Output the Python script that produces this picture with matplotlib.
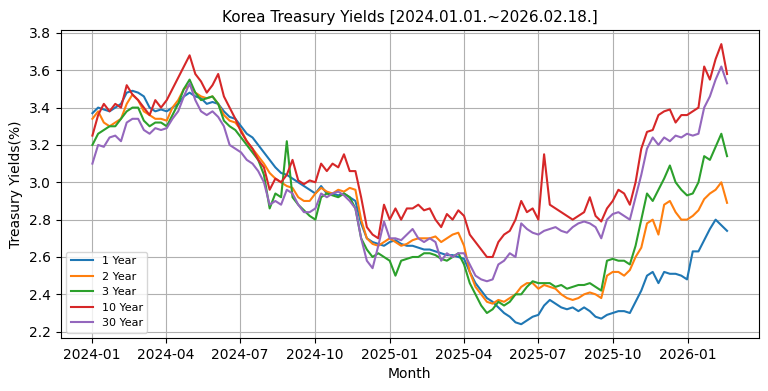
import numpy as np
import pandas as pd
import matplotlib
matplotlib.use("Agg")
import matplotlib.pyplot as plt
import matplotlib.dates as mdates

# weekly readings, 2024-01-02 .. 2026-02-18
y1 = [3.37, 3.40, 3.39, 3.38, 3.40, 3.42, 3.48, 3.49, 3.48, 3.46,
      3.40, 3.38, 3.39, 3.38, 3.40, 3.42, 3.46, 3.48, 3.46, 3.45,
      3.42, 3.43, 3.42, 3.38, 3.35, 3.34, 3.30, 3.26, 3.24, 3.20,
      3.16, 3.12, 3.08, 3.05, 3.04, 3.02, 3.00, 2.98, 2.96, 2.94,
      2.98, 2.94, 2.94, 2.93, 2.94, 2.92, 2.90, 2.78, 2.70, 2.68,
      2.67, 2.66, 2.68, 2.69, 2.67, 2.66, 2.66, 2.65, 2.64, 2.64,
      2.63, 2.62, 2.61, 2.61, 2.60, 2.59, 2.52, 2.46, 2.42, 2.38,
      2.36, 2.33, 2.30, 2.28, 2.25, 2.24, 2.26, 2.28, 2.29, 2.34,
      2.37, 2.35, 2.33, 2.32, 2.33, 2.31, 2.33, 2.31, 2.28, 2.27,
      2.29, 2.30, 2.31, 2.31, 2.30, 2.36, 2.42, 2.50, 2.52, 2.46,
      2.52, 2.51, 2.51, 2.50, 2.48, 2.63, 2.63, 2.69, 2.75, 2.80,
      2.77, 2.74]
y2 = [3.34, 3.38, 3.32, 3.30, 3.32, 3.34, 3.42, 3.47, 3.44, 3.38,
      3.36, 3.34, 3.34, 3.33, 3.40, 3.44, 3.50, 3.52, 3.48, 3.46,
      3.45, 3.46, 3.42, 3.36, 3.33, 3.32, 3.28, 3.22, 3.18, 3.14,
      3.10, 3.05, 3.02, 3.00, 2.98, 2.97, 2.92, 2.90, 2.90, 2.94,
      2.97, 2.95, 2.94, 2.96, 2.95, 2.97, 2.96, 2.80, 2.70, 2.67,
      2.66, 2.68, 2.70, 2.68, 2.66, 2.67, 2.69, 2.70, 2.70, 2.70,
      2.71, 2.68, 2.70, 2.72, 2.73, 2.66, 2.52, 2.44, 2.40, 2.36,
      2.35, 2.37, 2.36, 2.38, 2.40, 2.44, 2.46, 2.46, 2.43, 2.45,
      2.44, 2.43, 2.40, 2.38, 2.37, 2.38, 2.40, 2.41, 2.40, 2.38,
      2.50, 2.52, 2.52, 2.50, 2.53, 2.60, 2.65, 2.78, 2.80, 2.72,
      2.88, 2.90, 2.84, 2.80, 2.80, 2.82, 2.85, 2.91, 2.94, 2.96,
      3.00, 2.89]
y3 = [3.20, 3.26, 3.28, 3.30, 3.30, 3.34, 3.38, 3.40, 3.40, 3.33,
      3.30, 3.32, 3.32, 3.30, 3.36, 3.42, 3.50, 3.55, 3.48, 3.44,
      3.45, 3.46, 3.42, 3.33, 3.30, 3.28, 3.24, 3.20, 3.16, 3.12,
      3.04, 2.86, 2.94, 2.92, 3.22, 2.92, 2.88, 2.85, 2.82, 2.80,
      2.92, 2.94, 2.93, 2.92, 2.94, 2.92, 2.86, 2.70, 2.64, 2.60,
      2.62, 2.60, 2.58, 2.50, 2.58, 2.59, 2.60, 2.60, 2.62, 2.62,
      2.61, 2.59, 2.58, 2.60, 2.62, 2.56, 2.46, 2.40, 2.34, 2.30,
      2.32, 2.36, 2.34, 2.36, 2.40, 2.40, 2.44, 2.47, 2.46, 2.46,
      2.46, 2.44, 2.45, 2.43, 2.44, 2.45, 2.45, 2.46, 2.44, 2.42,
      2.58, 2.59, 2.58, 2.58, 2.56, 2.66, 2.80, 2.94, 2.90, 2.96,
      3.02, 3.09, 3.00, 2.96, 2.93, 2.94, 3.00, 3.14, 3.12, 3.19,
      3.26, 3.14]
y10 = [3.25, 3.36, 3.42, 3.38, 3.42, 3.40, 3.52, 3.47, 3.44, 3.40,
       3.36, 3.44, 3.40, 3.44, 3.50, 3.56, 3.62, 3.68, 3.58, 3.54,
       3.48, 3.52, 3.58, 3.46, 3.40, 3.34, 3.27, 3.22, 3.18, 3.12,
       3.08, 2.96, 3.02, 3.00, 3.04, 3.12, 3.01, 2.99, 3.01, 3.00,
       3.10, 3.06, 3.10, 3.08, 3.15, 3.06, 3.06, 2.92, 2.76, 2.72,
       2.70, 2.88, 2.80, 2.86, 2.80, 2.86, 2.86, 2.88, 2.85, 2.86,
       2.80, 2.76, 2.83, 2.80, 2.85, 2.82, 2.72, 2.68, 2.64, 2.60,
       2.60, 2.68, 2.72, 2.74, 2.80, 2.90, 2.84, 2.86, 2.80, 3.15,
       2.88, 2.86, 2.84, 2.82, 2.80, 2.82, 2.84, 2.92, 2.82, 2.79,
       2.86, 2.90, 2.96, 2.94, 2.88, 3.00, 3.18, 3.27, 3.28, 3.36,
       3.38, 3.39, 3.32, 3.36, 3.36, 3.38, 3.40, 3.62, 3.55, 3.66,
       3.74, 3.58]
y30 = [3.10, 3.20, 3.19, 3.24, 3.25, 3.22, 3.32, 3.34, 3.34, 3.28,
       3.26, 3.29, 3.28, 3.29, 3.34, 3.38, 3.46, 3.53, 3.44, 3.38,
       3.36, 3.38, 3.35, 3.30, 3.20, 3.18, 3.16, 3.12, 3.10, 3.06,
       3.00, 2.88, 2.90, 2.88, 2.96, 2.94, 2.88, 2.84, 2.84, 2.86,
       2.94, 2.92, 2.94, 2.95, 2.93, 2.90, 2.86, 2.70, 2.58, 2.54,
       2.66, 2.79, 2.70, 2.70, 2.69, 2.72, 2.75, 2.70, 2.68, 2.70,
       2.68, 2.58, 2.62, 2.60, 2.62, 2.62, 2.56, 2.50, 2.48, 2.47,
       2.48, 2.56, 2.58, 2.62, 2.60, 2.78, 2.75, 2.73, 2.72, 2.74,
       2.75, 2.76, 2.74, 2.73, 2.76, 2.78, 2.79, 2.78, 2.76, 2.70,
       2.80, 2.83, 2.84, 2.82, 2.80, 2.92, 3.04, 3.18, 3.24, 3.20,
       3.24, 3.22, 3.25, 3.24, 3.26, 3.25, 3.26, 3.40, 3.46, 3.55,
       3.62, 3.53]

labels = ["1 Year", "2 Year", "3 Year", "10 Year", "30 Year"]
series = [y1, y2, y3, y10, y30]

dates = pd.date_range("2024-01-02", "2026-02-18", periods=len(y1))

fig, ax = plt.subplots(figsize=(7.68, 3.91), dpi=100)
fig.subplots_adjust(left=0.079, right=0.988, top=0.923, bottom=0.135)

for vals, lab in zip(series, labels):
    ax.plot(dates, vals, lw=1.5, label=lab)

ax.xaxis.set_major_locator(mdates.MonthLocator(bymonth=[1, 4, 7, 10]))
ax.xaxis.set_major_formatter(mdates.DateFormatter("%Y-%m"))

ax.set_title("Korea Treasury Yields [2024.01.01.~2026.02.18.]", fontsize=11)
ax.set_xlabel("Month")
ax.set_ylabel("Treasury Yields(%)")
ax.grid(True)
ax.legend(loc="lower left", fontsize=8)

fig.savefig("out.png", dpi=100)
